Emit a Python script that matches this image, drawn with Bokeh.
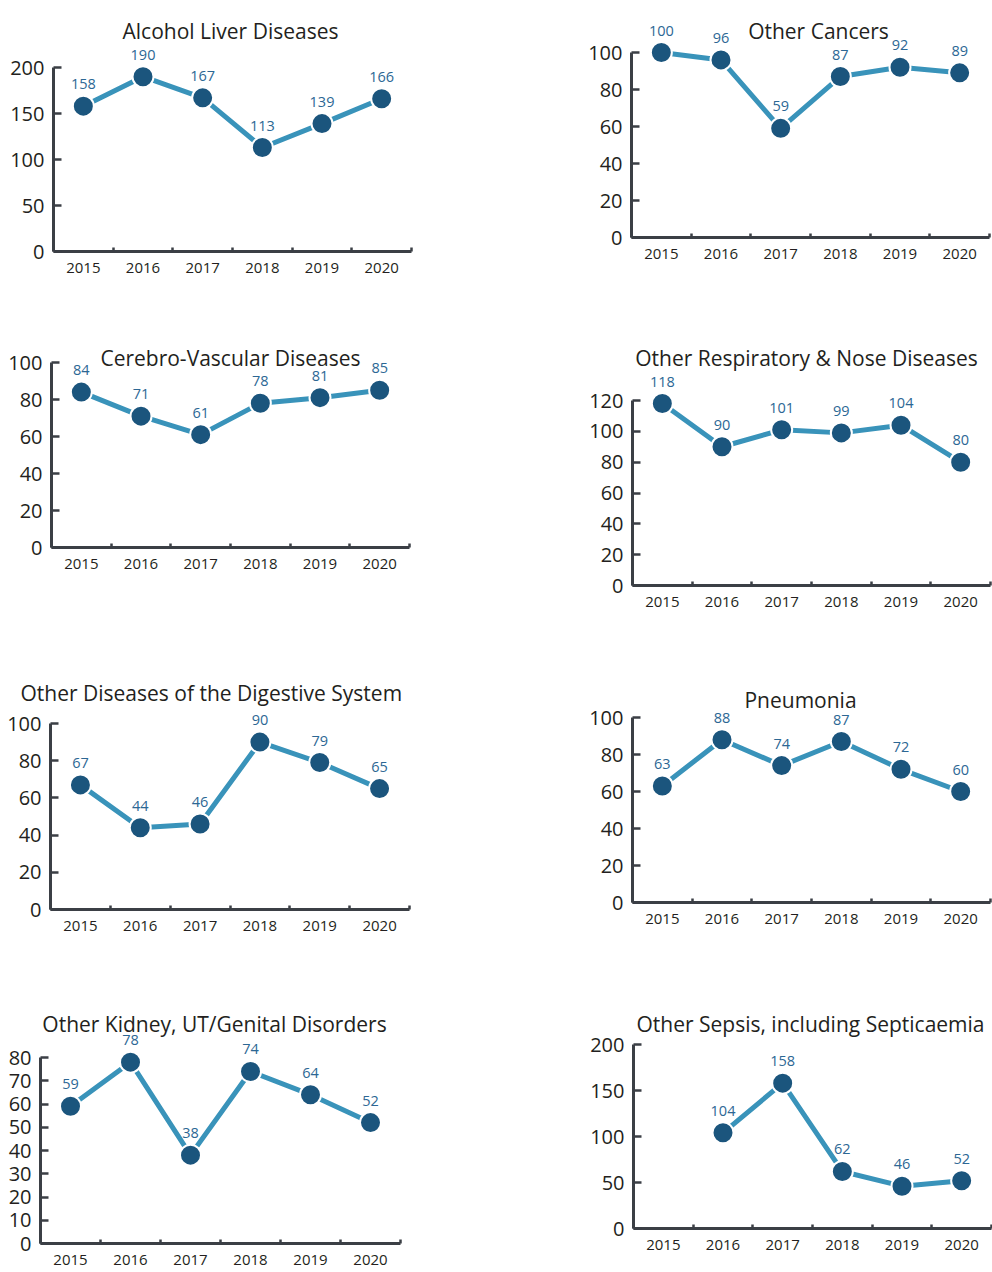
import math
from bokeh.plotting import figure
from bokeh.layouts import column, row
from bokeh.models import (ColumnDataSource, FixedTicker, Range1d, LabelSet, Label)
from bokeh.core.properties import value
from bokeh.embed import file_html
from bokeh.resources import INLINE

# ---------------- data ----------------
years = [2015, 2016, 2017, 2018, 2019, 2020]

titles = [
    "Alcohol Liver Diseases",
    "Other Cancers",
    "Cerebro-Vascular Diseases",
    "Other Respiratory & Nose Diseases",
    "Other Diseases of the Digestive System",
    "Pneumonia",
    "Other Kidney, UT/Genital Disorders",
    "Other Sepsis, including Septicaemia",
]

alcohol_liver = [158, 190, 167, 113, 139, 166]
other_cancers = [100, 96, 59, 87, 92, 89]
cerebro_vascular = [84, 71, 61, 78, 81, 85]
respiratory_nose = [118, 90, 101, 99, 104, 80]
digestive_system = [67, 44, 46, 90, 79, 65]
pneumonia = [63, 88, 74, 87, 72, 60]
kidney_genital = [59, 78, 38, 74, 64, 52]
sepsis = [float("nan"), 104, 158, 62, 46, 52]

yticks_200_by_50 = [0, 50, 100, 150, 200]
yticks_100_by_20 = [0, 20, 40, 60, 80, 100]
yticks_120_by_20 = [0, 20, 40, 60, 80, 100, 120]
yticks_80_by_10 = [0, 10, 20, 30, 40, 50, 60, 70, 80]

series = [alcohol_liver, other_cancers, cerebro_vascular, respiratory_nose,
          digestive_system, pneumonia, kidney_genital, sepsis]
yticks = [yticks_200_by_50, yticks_100_by_20, yticks_100_by_20, yticks_120_by_20,
          yticks_100_by_20, yticks_100_by_20, yticks_80_by_10, yticks_200_by_50]

# ---------------- style ----------------
FONT = "Open Sans"
TEXT_COLOR = "#231f20"
AXIS_COLOR = "#3b3f45"
LINE_COLOR = "#3993ba"
MARKER_COLOR = "#1b557d"
LABEL_COLOR = "#2c6794"

# page layout (no body margin): column origins / widths, row origins / heights
COL_X = [0, 500]
COL_W = [500, 492]
ROW_Y = [0, 292, 627, 958]
ROW_H = [292, 335, 331, 314]

# per panel (page px): axis left/right, frame top, y=0 pixel, top-tick pixel,
# title centre x (or left edge for slot titles), title baseline y
geom = [
    dict(fl=53, fr=411, ft=8, fb=251, pt=67, tx=230, ty=30, slot=False),
    dict(fl=631, fr=989, ft=8, fb=237, pt=52, tx=818, ty=30, slot=False),
    dict(fl=51, fr=409, ft=330, fb=547, pt=362, tx=230, ty=357, slot=False),
    dict(fl=632, fr=990, ft=330, fb=585, pt=400, tx=806, ty=357, slot=False),
    dict(fl=50, fr=409, ft=706, fb=909, pt=723, tx=20, ty=700, slot=True),
    dict(fl=632, fr=990, ft=670, fb=902, pt=717, tx=800, ty=699, slot=False),
    dict(fl=40, fr=400, ft=990, fb=1243, pt=1057, tx=214, ty=1023, slot=False),
    dict(fl=633, fr=991, ft=990, fb=1228, pt=1044, tx=810, ty=1023, slot=False),
]


def make_panel(i):
    g = geom[i]
    c, r = i % 2, i // 2
    fx, fy, fw, fh = COL_X[c], ROW_Y[r], COL_W[c], ROW_H[r]
    vals = series[i]
    ymax = yticks[i][-1]
    xlo, xhi = years[0] - 0.5, years[-1] + 0.5
    per_px = ymax / (g["fb"] - g["pt"])
    ytop = (g["fb"] - g["ft"]) * per_px

    p = figure(width=fw, height=fh,
               x_range=Range1d(xlo, xhi), y_range=Range1d(0, ytop),
               output_backend="svg", toolbar_location=None,
               min_border_left=g["fl"] - fx, min_border_right=fx + fw - g["fr"],
               min_border_top=g["ft"] - fy, min_border_bottom=fy + fh - g["fb"])
    p.outline_line_color = None
    p.xgrid.visible = False
    p.ygrid.visible = False

    xa = p.xaxis[0]
    boundaries = [y - 0.5 for y in years] + [years[-1] + 0.5]
    xa.ticker = FixedTicker(ticks=years, minor_ticks=boundaries)
    xa.axis_line_color = AXIS_COLOR
    xa.axis_line_width = 3
    xa.major_tick_in = 0
    xa.major_tick_out = 0
    xa.major_tick_line_color = None
    xa.minor_tick_in = 4
    xa.minor_tick_out = 0
    xa.minor_tick_line_color = AXIS_COLOR
    xa.minor_tick_line_width = 2.5
    xa.major_label_text_font = FONT
    xa.major_label_text_font_size = "15px"
    xa.major_label_text_color = TEXT_COLOR
    xa.major_label_standoff = 11

    ya = p.yaxis[0]
    ya.ticker = FixedTicker(ticks=yticks[i], minor_ticks=[])
    ya.bounds = (0, ymax)
    ya.axis_line_color = AXIS_COLOR
    ya.axis_line_width = 3
    ya.major_tick_in = 8
    ya.major_tick_out = 0
    ya.major_tick_line_color = AXIS_COLOR
    ya.major_tick_line_width = 2.5
    ya.minor_tick_line_color = None
    ya.major_label_text_font = FONT
    ya.major_label_text_font_size = "20px"
    ya.major_label_text_color = TEXT_COLOR
    ya.major_label_standoff = 9

    src = ColumnDataSource(dict(x=years, y=vals))
    p.line("x", "y", source=src, line_color=LINE_COLOR, line_width=5)
    p.scatter("x", "y", source=src, size=21, fill_color=MARKER_COLOR,
              line_color="white", line_width=2)

    ok = [k for k, v in enumerate(vals) if not (isinstance(v, float) and math.isnan(v))]
    lab_src = ColumnDataSource(dict(x=[years[k] for k in ok], y=[vals[k] for k in ok],
                                    t=[str(int(vals[k])) for k in ok]))
    p.add_layout(LabelSet(x="x", y="y", text="t", source=lab_src, y_offset=17,
                          text_align="center", text_baseline="alphabetic",
                          text_font=value(FONT), text_font_size=value("14.5px"),
                          text_color=value(LABEL_COLOR)))

    if g["slot"]:
        p.title.text = titles[i]
        p.title.align = "left"
        p.title.offset = g["tx"] - g["fl"]
        p.title.standoff = 0
        p.title.text_font = FONT
        p.title.text_font_size = "21px"
        p.title.text_font_style = "normal"
        p.title.text_color = TEXT_COLOR
    else:
        tx = xlo + (g["tx"] - g["fl"]) / (g["fr"] - g["fl"]) * (xhi - xlo)
        ty = (g["fb"] - g["ty"]) * per_px
        p.add_layout(Label(x=tx, y=ty, text=titles[i], text_align="center",
                           text_baseline="alphabetic", text_font=FONT,
                           text_font_size="21px", text_color=TEXT_COLOR))
    return p


panels = [make_panel(i) for i in range(8)]
layout = column(*[row(column(panels[2 * r]), column(panels[2 * r + 1]))
                  for r in range(4)])

open("out.html", "w").write(file_html(layout, INLINE))
